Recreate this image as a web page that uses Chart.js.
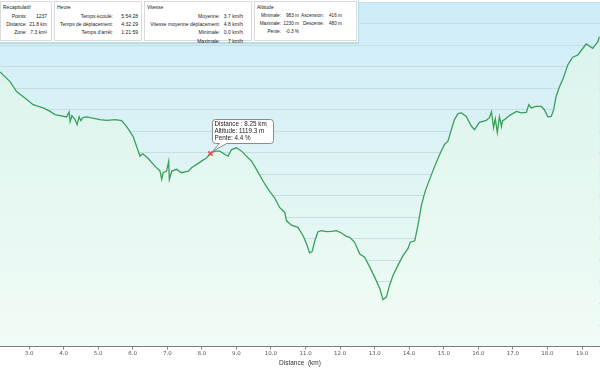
<!DOCTYPE html>
<html><head><meta charset="utf-8">
<script src="https://cdn.jsdelivr.net/npm/chart.js@4/dist/chart.umd.min.js"></script>
<style>
html,body{margin:0;padding:0;background:#fff;}
#wrap{position:relative;width:600px;height:368px;overflow:hidden;}
#c{position:absolute;left:0;top:0;}
#panel{position:absolute;left:0;top:0;width:358px;height:42px;background:#fff;border-right:1px solid #b8dcea;border-bottom:2px solid #b8dcea;font-family:"Liberation Sans",Arial,sans-serif;font-size:5px;color:#222;}
.grp{position:absolute;top:1px;height:40px;border:1px solid #dadada;box-sizing:border-box;}
.gt{position:absolute;top:2px;left:2px;white-space:nowrap;}
.r{position:absolute;white-space:nowrap;text-align:right;line-height:6px;}
</style></head>
<body><div id="wrap"><canvas id="c" width="600" height="368"></canvas><div id="panel"></div></div>
<script>
// ---- data ----
const kmValues = [2.16,2.45,2.64,2.88,3.12,3.27,3.41,3.61,3.75,4.09,4.16,4.19,4.24,4.33,4.39,4.45,4.50,4.56,4.67,5.05,5.25,5.49,5.68,5.82,6.01,6.11,6.21,6.29,6.45,6.64,6.79,6.84,6.88,6.98,7.04,7.06,7.13,7.27,7.41,7.61,7.70,7.85,7.99,8.14,8.25,8.38,8.52,8.67,8.76,8.86,9.00,9.15,9.29,9.44,9.58,9.77,9.92,10.11,10.25,10.40,10.45,10.59,10.78,10.93,11.03,11.12,11.19,11.27,11.36,11.46,11.61,11.75,11.89,12.04,12.18,12.28,12.42,12.57,12.71,12.86,13.00,13.15,13.24,13.34,13.43,13.53,13.67,13.82,13.96,14.03,14.16,14.25,14.35,14.45,14.59,14.74,14.88,15.02,15.12,15.22,15.31,15.41,15.51,15.65,15.80,15.89,16.03,16.23,16.32,16.38,16.44,16.49,16.55,16.61,16.67,16.70,16.76,16.90,17.10,17.24,17.39,17.46,17.53,17.67,17.82,17.91,18.01,18.11,18.18,18.25,18.35,18.44,18.59,18.73,18.88,19.12,19.31,19.46,19.50];
const altValues = [1195.1,1186.1,1176.9,1170.8,1164.6,1163.0,1161.6,1158.4,1155.4,1153.3,1157.9,1148.9,1154.5,1150.8,1146.1,1153.5,1149.8,1152.6,1153.3,1150.8,1150.1,1150.8,1149.8,1144.6,1135.3,1126.1,1116.9,1119.1,1114.7,1107.6,1103.0,1095.3,1101.5,1103.0,1111.9,1095.3,1103.0,1104.6,1101.5,1103.0,1106.1,1109.2,1112.2,1115.4,1119.3,1121.5,1121.5,1118.4,1116.9,1123.0,1124.6,1121.5,1116.9,1112.2,1104.6,1093.8,1086.1,1077.8,1069.2,1064.6,1056.8,1052.8,1050.7,1043.0,1035.3,1027.0,1028.2,1038.3,1046.7,1047.6,1046.7,1047.0,1047.6,1045.5,1042.4,1041.5,1036.9,1026.0,1023.0,1013.8,1004.5,993.7,983.5,986.0,996.8,1006.0,1015.2,1024.5,1030.7,1036.9,1038.3,1052.2,1070.7,1083.0,1095.3,1107.6,1118.4,1127.7,1130.7,1141.5,1150.8,1156.3,1157.0,1153.8,1144.6,1141.5,1148.3,1150.1,1152.6,1158.1,1143.4,1151.7,1138.8,1153.5,1144.3,1149.8,1150.8,1154.5,1158.4,1157.0,1157.5,1164.6,1161.6,1163.0,1163.0,1160.0,1153.3,1153.8,1160.0,1172.3,1181.5,1187.7,1201.6,1208.7,1210.8,1221.0,1217.0,1223.1,1227.7];
const tickValues = [3,4,5,6,7,8,9,10,11,12,13,14,15,16,17,18,19];
const cursorKm = 8.25;
const cursorAlt = 1119.3;
const cursorLines = ["Distance : 8.25 km", "Altitude: 1119.3 m", "Pente: 4.4 %"];
const recapRows = [["Points:", "1237"], ["Distance:", "21.8 km"], ["Zone:", "7.3 km²"]];
const heureRows = [["Temps écoulé:", "5:54:28"], ["Temps de déplacement:", "4:32:29"], ["Temps d'arrêt:", "1:21:59"]];
const vitesseRows = [["Moyenne:", "3.7 km/h"], ["Vitesse moyenne déplacement:", "4.8 km/h"], ["Minimale:", "0.0 km/h"], ["Maximale:", "7 km/h"]];
const altRowsA = [["Minimale:", "983 m"], ["Maximale:", "1230 m"], ["Pente:", "-0.3 %"]];
const altRowsB = [["Ascension:", "416 m"], ["Descente:", "480 m"]];

// ---- summary panel (HTML text) ----
const PANEL_W = 358;
const panel = document.getElementById('panel');
function group(left, width, title) {
  const g = document.createElement('div');
  g.className = 'grp'; g.style.left = left + 'px'; g.style.width = width + 'px';
  const t = document.createElement('div'); t.className = 'gt'; t.textContent = title; g.appendChild(t);
  panel.appendChild(g);
}
function rows(list, labelEnd, valueEnd, fs) {
  list.forEach((r, i) => {
    const top = 12.7 + i * 8.3;
    const a = document.createElement('div'); a.className = 'r';
    a.style.right = (PANEL_W - labelEnd) + 'px'; a.style.top = top + 'px'; a.textContent = r[0];
    const b = document.createElement('div'); b.className = 'r';
    b.style.right = (PANEL_W - valueEnd) + 'px'; b.style.top = top + 'px'; b.textContent = r[1];
    if (fs) { a.style.fontSize = fs + 'px'; b.style.fontSize = fs + 'px'; }
    panel.appendChild(a); panel.appendChild(b);
  });
}
group(0, 52, 'Récapitulatif');
group(54, 88, 'Heure');
group(144, 108, 'Vitesse');
group(254, 103, 'Altitude');
rows(recapRows, 27, 47);
rows(heureRows, 113, 138);
rows(vitesseRows, 220, 243);
rows(altRowsA, 281, 299, 4.7);
rows(altRowsB, 324, 342, 4.7);

// ---- chart ----
const pts = kmValues.map((k, i) => ({x: k, y: altValues[i]}));

const bgPlugin = {
  id: 'bg',
  beforeDraw(chart) {
    const {ctx, chartArea: a} = chart;
    if (!a) return;
    const g = ctx.createLinearGradient(0, a.top, 0, a.bottom);
    g.addColorStop(0, '#cdecf9');
    g.addColorStop(0.5, '#e0f4f4');
    g.addColorStop(1, '#eefcf3');
    ctx.save(); ctx.fillStyle = g; ctx.fillRect(a.left, a.top, a.right - a.left, a.bottom - a.top); ctx.restore();
  }
};

const cursorPlugin = {
  id: 'cursor',
  afterDatasetsDraw(chart) {
    const {ctx, scales} = chart;
    const px = scales.x.getPixelForValue(cursorKm);
    const py = scales.y.getPixelForValue(cursorAlt);
    const bx = px + 2, by = py - 34, bw = 61, bh = 24, r = 3;
    ctx.save();
    ctx.fillStyle = '#ffffff'; ctx.strokeStyle = '#8a8a8a'; ctx.lineWidth = 1;
    ctx.beginPath();
    ctx.moveTo(bx + r, by);
    ctx.lineTo(bx + bw - r, by); ctx.arcTo(bx + bw, by, bx + bw, by + r, r);
    ctx.lineTo(bx + bw, by + bh - r); ctx.arcTo(bx + bw, by + bh, bx + bw - r, by + bh, r);
    ctx.lineTo(bx + 14, by + bh);
    ctx.lineTo(px + 2, py - 2);
    ctx.lineTo(bx + 7, by + bh);
    ctx.lineTo(bx + r, by + bh); ctx.arcTo(bx, by + bh, bx, by + bh - r, r);
    ctx.lineTo(bx, by + r); ctx.arcTo(bx, by, bx + r, by, r);
    ctx.closePath(); ctx.fill(); ctx.stroke();
    ctx.fillStyle = '#222';
    ctx.font = '6.3px "Liberation Sans", Arial, sans-serif';
    ctx.textBaseline = 'middle';
    cursorLines.forEach((t, i) => ctx.fillText(t, bx + 2, by + 5 + i * 7));
    ctx.restore();
  }
};

new Chart(document.getElementById('c'), {
  type: 'line',
  data: {
    datasets: [
      {
        data: [{x: cursorKm, y: cursorAlt}],
        showLine: false, pointStyle: 'crossRot', pointRadius: 3, hoverRadius: 3,
        borderColor: '#e05a5a', borderWidth: 2, backgroundColor: '#e05a5a'
      },
      {
        data: pts,
        borderColor: '#39a05a', borderWidth: 1.3, pointRadius: 0, tension: 0,
        fill: 'start',
        backgroundColor(ctx) {
          const a = ctx.chart.chartArea;
          if (!a) return '#e2f6ee';
          const g = ctx.chart.ctx.createLinearGradient(0, a.top, 0, a.bottom);
          g.addColorStop(0, '#d8f2ec');
          g.addColorStop(1, '#f0fcf5');
          return g;
        }
      }
    ]
  },
  options: {
    responsive: false, animation: false, devicePixelRatio: 1,
    layout: {autoPadding: false, padding: {top: 2, left: 0, right: 0, bottom: 1}},
    plugins: {legend: {display: false}, tooltip: {enabled: false}},
    scales: {
      x: {
        type: 'linear', min: 2.16, max: 19.52,
        afterBuildTicks(s) { s.ticks = tickValues.map(v => ({value: v})); },
        afterFit(s) { s.paddingLeft = 0; s.paddingRight = 0; },
        ticks: {callback: v => Number(v).toFixed(1), font: {size: 5.5, family: 'Verdana, "DejaVu Sans", sans-serif'}, color: '#555', padding: 1, maxRotation: 0, autoSkip: false},
        grid: {drawOnChartArea: false, drawTicks: true, tickLength: 3, color: '#888'},
        border: {display: true, color: '#6a6a6a', width: 1},
        title: {display: true, text: 'Distance  (km)', font: {size: 6.5, family: '"Liberation Sans", Arial, sans-serif'}, color: '#333', padding: {top: 1, bottom: 0}}
      },
      y: {
        min: 940, max: 1260,
        afterFit(s) { s.width = 0; s.paddingTop = 0; s.paddingBottom = 0; },
        ticks: {display: false, stepSize: 20},
        grid: {color: '#c6dde2', drawTicks: false, lineWidth: 1},
        border: {display: false}
      }
    }
  },
  plugins: [bgPlugin, cursorPlugin]
});
</script>
</body></html>
